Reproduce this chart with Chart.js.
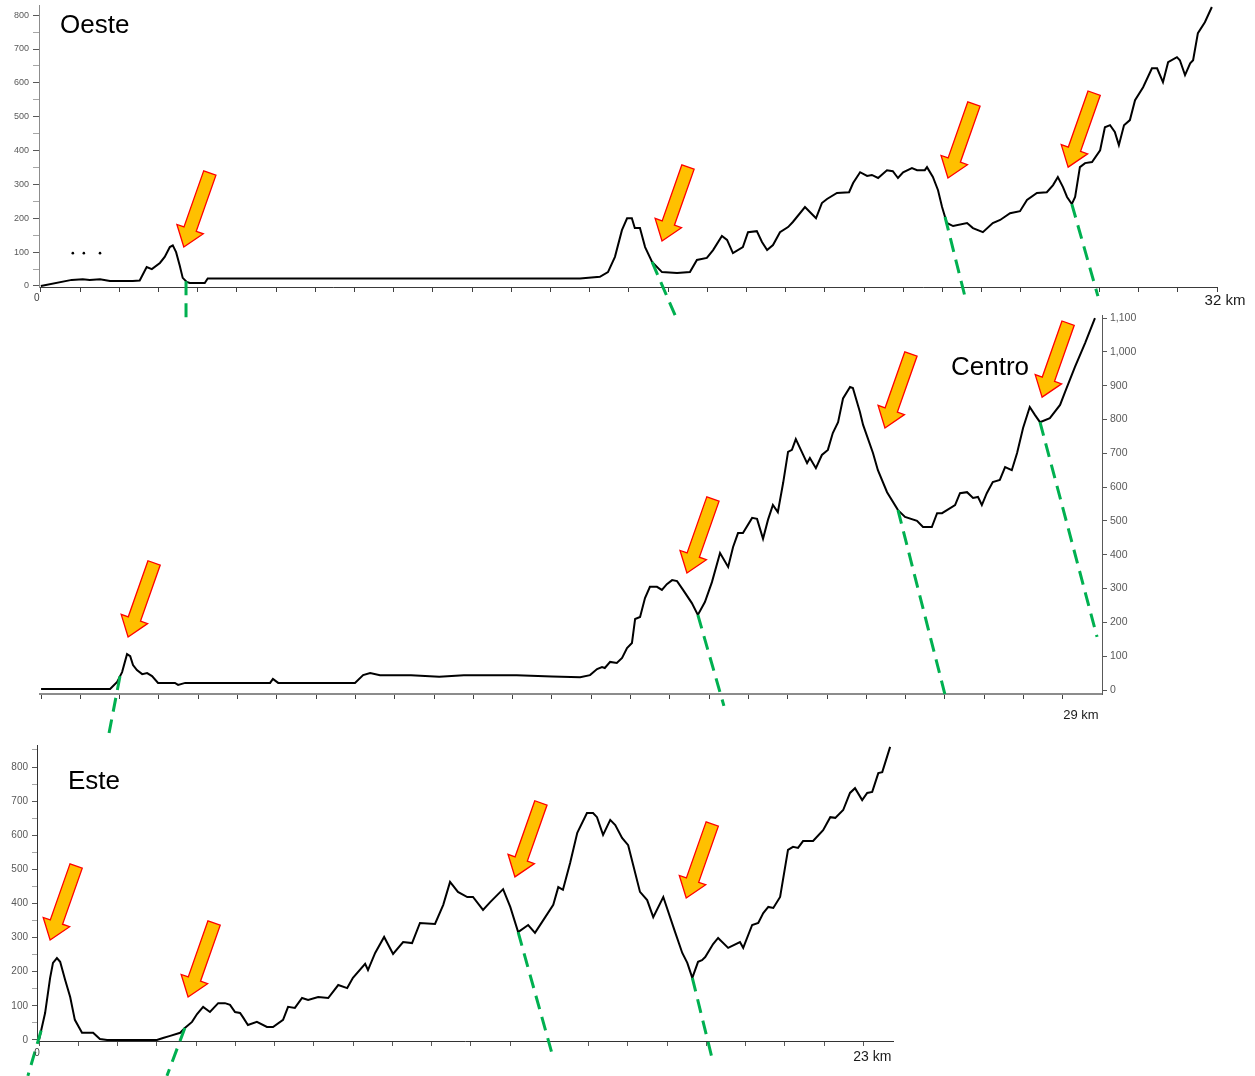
<!DOCTYPE html>
<html>
<head>
<meta charset="utf-8">
<title>Perfiles Oeste / Centro / Este</title>
<script src="https://cdn.jsdelivr.net/npm/chart.js@4.4.0/dist/chart.umd.min.js"></script>
<style>
  body { margin: 0; background: #fff; }
  #wrap { position: relative; width: 1255px; height: 1076px; background: #fff; }
  #wrap canvas { position: absolute; left: 0; top: 0; }
</style>
</head>
<body>
<div id="wrap">
  <canvas id="chart-oeste" width="1255" height="1076"></canvas>
  <canvas id="chart-centro" width="1255" height="1076"></canvas>
  <canvas id="chart-este" width="1255" height="1076"></canvas>
</div>
<script>
// Oeste profile: distance (km) and elevation (m)
var oesteKm = [
  0, 0.84, 1.14, 1.33, 1.61, 1.88, 2.50, 2.69, 2.88, 3.02,
  3.24, 3.37, 3.51, 3.59, 3.68, 3.78, 3.86, 3.97, 4.05, 4.46,
  4.54, 14.67, 15.21, 15.43, 15.62, 15.81, 15.95, 16.08, 16.16, 16.30,
  16.44, 16.63, 16.90, 17.31, 17.66, 17.85, 18.12, 18.29, 18.53, 18.67,
  18.83, 19.10, 19.24, 19.48, 19.62, 19.76, 19.92, 20.11, 20.33, 20.46,
  20.79, 20.93, 21.09, 21.25, 21.39, 21.66, 21.99, 22.10, 22.29, 22.48,
  22.61, 22.78, 23.02, 23.18, 23.32, 23.46, 23.70, 23.84, 24.05, 24.11,
  24.27, 24.41, 24.52, 24.65, 24.82, 25.20, 25.36, 25.63, 25.90, 26.10,
  26.37, 26.64, 26.83, 27.10, 27.37, 27.54, 27.67, 27.81, 27.92, 28.05,
  28.14, 28.27, 28.41, 28.60, 28.82, 28.95, 29.09, 29.22, 29.33, 29.47,
  29.63, 29.77, 29.99, 30.23, 30.37, 30.53, 30.67, 30.91, 30.99, 31.13,
  31.27, 31.35, 31.48, 31.67, 31.86
];
var oesteElev = [
  0, 18, 20, 18, 20, 15, 15, 16, 56, 50,
  68, 86, 115, 120, 100, 60, 24, 12, 9, 9,
  22, 22, 27, 41, 86, 165, 200, 200, 171, 171,
  115, 71, 41, 38, 41, 77, 83, 106, 148, 136,
  97, 115, 159, 162, 130, 106, 121, 159, 174, 189,
  233, 218, 200, 245, 257, 275, 277, 304, 336, 325,
  328, 319, 342, 339, 319, 336, 348, 342, 342, 351,
  322, 283, 233, 186, 177, 186, 171, 159, 186, 195,
  215, 221, 254, 275, 277, 298, 322, 292, 263, 242,
  263, 351, 363, 366, 401, 469, 475, 455, 416, 475,
  490, 549, 587, 643, 643, 602, 661, 676, 667, 623,
  658, 667, 747, 779, 824
];
var oesteDotKm = [0.87, 1.17, 1.61];
var oesteDotElev = [97, 97, 97];

// Centro profile
var centroKm = [
  0, 1.96, 2.16, 2.30, 2.44, 2.53, 2.61, 2.72, 2.87, 3.01,
  3.15, 3.32, 3.80, 3.89, 4.09, 6.50, 6.58, 6.73, 8.91, 9.14,
  9.34, 9.62, 10.50, 11.30, 12.00, 13.50, 14.50, 15.30, 15.58, 15.78,
  15.92, 16.00, 16.15, 16.34, 16.49, 16.63, 16.77, 16.86, 17.00, 17.14,
  17.28, 17.48, 17.62, 17.76, 17.91, 18.05, 18.22, 18.47, 18.64, 18.84,
  19.04, 19.27, 19.50, 19.64, 19.78, 19.92, 20.18, 20.32, 20.49, 20.63,
  20.77, 20.91, 21.06, 21.20, 21.31, 21.42, 21.59, 21.74, 21.82, 21.99,
  22.16, 22.33, 22.47, 22.62, 22.76, 22.96, 23.04, 23.24, 23.33, 23.61,
  23.75, 24.01, 24.32, 24.52, 24.86, 25.03, 25.28, 25.43, 25.57, 25.71,
  25.94, 26.08, 26.28, 26.45, 26.59, 26.70, 26.84, 27.01, 27.21, 27.36,
  27.55, 27.70, 27.87, 28.06, 28.21, 28.35, 28.63, 28.92, 29.06, 29.34,
  29.63, 29.91
];
var centroElev = [
  3, 3, 24, 53, 106, 100, 74, 59, 47, 50,
  41, 21, 21, 15, 21, 21, 33, 21, 21, 44,
  50, 44, 44, 39, 44, 44, 40, 38, 44, 62,
  68, 65, 83, 80, 95, 124, 139, 210, 216, 272,
  305, 305, 296, 313, 325, 322, 296, 257, 222, 260,
  319, 405, 364, 423, 464, 464, 509, 506, 447, 503,
  547, 526, 612, 704, 710, 742, 704, 671, 686, 656,
  695, 710, 760, 792, 862, 896, 893, 822, 784, 701,
  650, 585, 532, 512, 500, 482, 482, 523, 523, 532,
  547, 582, 585, 568, 571, 547, 582, 615, 621, 659,
  650, 701, 775, 837, 813, 792, 804, 843, 881, 955,
  1026, 1100
];

// Este profile
var esteKm = [
  0, 0.17, 0.31, 0.39, 0.50, 0.59, 0.73, 0.87, 1.00, 1.20,
  1.51, 1.70, 1.90, 3.29, 3.46, 3.66, 3.94, 4.07, 4.27, 4.41,
  4.58, 4.77, 5.00, 5.19, 5.33, 5.47, 5.61, 5.69, 5.83, 6.08,
  6.36, 6.53, 6.81, 6.95, 7.14, 7.34, 7.51, 7.79, 8.07, 8.35,
  8.60, 8.76, 9.10, 9.18, 9.38, 9.63, 9.88, 10.16, 10.41, 10.63,
  11.05, 11.28, 11.47, 11.69, 11.95, 12.11, 12.39, 12.59, 12.95, 13.15,
  13.37, 13.65, 13.84, 14.04, 14.35, 14.49, 14.62, 14.82, 15.02, 15.29,
  15.46, 15.57, 15.74, 15.94, 16.08, 16.27, 16.44, 16.77, 16.97, 17.14,
  17.42, 17.75, 17.95, 18.09, 18.23, 18.39, 18.50, 18.59, 18.81, 18.95,
  19.23, 19.56, 19.65, 19.90, 20.07, 20.21, 20.35, 20.49, 20.68, 20.90,
  21.04, 21.18, 21.32, 21.60, 21.88, 22.08, 22.22, 22.44, 22.63, 22.77,
  22.97, 23.11, 23.25, 23.42, 23.53, 23.75
];
var esteElev = [
  0, 79, 182, 226, 240, 229, 176, 126, 59, 21,
  21, 3, 0, 0, 6, 12, 21, 35, 53, 76,
  97, 82, 108, 108, 103, 82, 79, 67, 44, 53,
  38, 38, 59, 97, 94, 123, 117, 126, 123, 161,
  152, 182, 223, 205, 255, 302, 252, 287, 284, 343,
  340, 396, 463, 434, 419, 419, 381, 404, 442, 390,
  316, 337, 314, 346, 396, 448, 440, 519, 607, 665,
  665, 653, 601, 645, 630, 592, 571, 434, 410, 360,
  419, 316, 255, 226, 182, 229, 234, 243, 281, 299,
  270, 287, 270, 337, 343, 372, 390, 387, 419, 557,
  566, 563, 583, 583, 615, 653, 651, 674, 724, 738,
  703, 724, 727, 782, 785, 859
];

// y tick values and the distance written at the end of each axis
var oesteYTicks = [0, 50, 100, 150, 200, 250, 300, 350, 400, 450, 500, 550, 600, 650, 700, 750, 800];
var centroYTicks = [0, 100, 200, 300, 400, 500, 600, 700, 800, 900, 1000, 1100];
var esteYTicks = [0, 50, 100, 150, 200, 250, 300, 350, 400, 450, 500, 550, 600, 650, 700, 750, 800, 850];
var oesteTotal = 32;
var centroTotal = 29;
var esteTotal = 23;

var FONT = '"Liberation Sans", Arial, Helvetica, sans-serif';

function toPoints(xs, ys) {
  var pts = [];
  for (var i = 0; i < xs.length; i++) {
    pts.push({x: xs[i], y: ys[i]});
  }
  return pts;
}

// linear interpolation along a profile, used to start the dashed guides on the line
function elevAt(km, xs, ys) {
  if (km <= xs[0]) return ys[0];
  for (var i = 1; i < xs.length; i++) {
    if (km <= xs[i]) {
      var t = (km - xs[i - 1]) / (xs[i] - xs[i - 1]);
      return ys[i - 1] + t * (ys[i] - ys[i - 1]);
    }
  }
  return ys[ys.length - 1];
}

function xTickValues(total, count, last) {
  var vals = [];
  for (var i = 0; i <= last; i++) {
    vals.push(i * total / count);
  }
  return vals;
}

// orange block arrow pointing down-left onto the profile
function drawArrow(ctx, tx, ty) {
  var bx = tx + 26, by = ty - 74;
  var len = Math.sqrt((tx - bx) * (tx - bx) + (ty - by) * (ty - by));
  var ux = (tx - bx) / len, uy = (ty - by) / len;
  var nx = -uy, ny = ux;
  var shaft = 6.5, head = 14, headLen = 19;
  var hx = tx - ux * headLen, hy = ty - uy * headLen;
  ctx.beginPath();
  ctx.moveTo(bx + nx * shaft, by + ny * shaft);
  ctx.lineTo(hx + nx * shaft, hy + ny * shaft);
  ctx.lineTo(hx + nx * head, hy + ny * head);
  ctx.lineTo(tx, ty);
  ctx.lineTo(hx - nx * head, hy - ny * head);
  ctx.lineTo(hx - nx * shaft, hy - ny * shaft);
  ctx.lineTo(bx - nx * shaft, by - ny * shaft);
  ctx.closePath();
  ctx.fillStyle = '#FFC000';
  ctx.fill();
  ctx.lineJoin = 'miter';
  ctx.strokeStyle = '#FF0000';
  ctx.lineWidth = 1.3;
  ctx.stroke();
}

function drawMarks(chart, panel) {
  var ctx = chart.ctx;
  var sx = chart.scales.x, sy = chart.scales.y;
  ctx.save();

  // green dashed guides
  ctx.setLineDash([14, 8]);
  ctx.lineDashOffset = 0;
  ctx.lineWidth = 3;
  ctx.lineCap = 'butt';
  ctx.strokeStyle = '#00B050';
  panel.dashes.forEach(function (d) {
    var y0 = elevAt(d[0], panel.km, panel.elev);
    ctx.beginPath();
    ctx.moveTo(sx.getPixelForValue(d[0]), sy.getPixelForValue(y0));
    ctx.lineTo(sx.getPixelForValue(d[1]), sy.getPixelForValue(d[2]));
    ctx.stroke();
  });
  ctx.setLineDash([]);

  panel.arrows.forEach(function (a) {
    drawArrow(ctx, sx.getPixelForValue(a[0]), sy.getPixelForValue(a[1]));
  });

  // axis end labels
  ctx.textAlign = 'center';
  ctx.textBaseline = 'middle';
  panel.endLabels.forEach(function (l) {
    ctx.font = l.size + 'px ' + FONT;
    ctx.fillStyle = l.color;
    ctx.fillText(l.text, sx.getPixelForValue(l.value) + l.dx, chart.chartArea.bottom + l.dy);
  });

  // panel name
  ctx.textAlign = 'left';
  ctx.textBaseline = 'alphabetic';
  ctx.font = '26px ' + FONT;
  ctx.fillStyle = '#000';
  ctx.fillText(panel.title, panel.titleX, panel.titleY);
  ctx.restore();
}

function makeProfile(canvasId, panel) {
  var datasets = [{
    data: toPoints(panel.km, panel.elev),
    borderColor: '#000',
    borderWidth: 2,
    pointRadius: 0,
    tension: 0,
    fill: false
  }];
  if (panel.dotKm) {
    datasets.push({
      type: 'scatter',
      data: toPoints(panel.dotKm, panel.dotElev),
      pointRadius: 1.3,
      backgroundColor: '#000',
      borderWidth: 0
    });
  }
  var yTicks = panel.yTicks;
  var xTicks = panel.xTicks;

  return new Chart(document.getElementById(canvasId).getContext('2d'), {
    type: 'line',
    data: {datasets: datasets},
    options: {
      responsive: false,
      animation: false,
      events: [],
      layout: {padding: panel.padding},
      plugins: {legend: {display: false}, tooltip: {enabled: false}},
      scales: {
        x: {
          type: 'linear',
          bounds: 'data',
          min: panel.xMin,
          max: panel.xMax,
          afterBuildTicks: function (scale) {
            scale.ticks = xTicks.map(function (v) { return {value: v}; });
          },
          afterFit: function (scale) {
            scale.height = 30;
            scale.paddingLeft = 0;
            scale.paddingRight = 0;
          },
          border: {color: panel.xAxisColor, width: panel.xAxisWidth},
          grid: {drawOnChartArea: false, drawTicks: true, tickLength: 5, tickColor: panel.xTickColor, tickWidth: 1},
          ticks: {autoSkip: false, maxRotation: 0, callback: function () { return ''; }}
        },
        y: {
          type: 'linear',
          position: panel.yPosition,
          bounds: 'data',
          min: panel.yMin,
          max: panel.yMax,
          afterBuildTicks: function (scale) {
            scale.ticks = yTicks.map(function (v) { return {value: v}; });
          },
          afterFit: function (scale) {
            scale.width = panel.yWidth;
            // the plot area is placed by the layout padding alone
            scale.paddingTop = 0;
            scale.paddingBottom = 0;
          },
          border: {color: panel.yAxisColor, width: 1},
          grid: {
            drawOnChartArea: false,
            drawTicks: true,
            tickLength: panel.yTickLength,
            tickWidth: 1,
            tickColor: function (c) {
              return c.tick && c.tick.value % 100 === 0 ? '#595959' : '#a6a6a6';
            }
          },
          ticks: {
            autoSkip: false,
            padding: panel.yPadding,
            color: '#595959',
            font: {family: FONT, size: panel.yFontSize},
            callback: function (v) {
              return v % 100 === 0 ? v.toLocaleString('en-US') : '';
            }
          }
        }
      }
    },
    plugins: [{
      id: 'profileMarks',
      afterDraw: function (chart) { drawMarks(chart, panel); }
    }]
  });
}

// top panel: chart area 39..1217 x 5..287
makeProfile('chart-oeste', {
  km: oesteKm, elev: oesteElev, dotKm: oesteDotKm, dotElev: oesteDotElev,
  title: 'Oeste', titleX: 60, titleY: 33,
  padding: {left: 0, right: 38, top: 5, bottom: 759},
  xMin: -0.05, xMax: oesteTotal, xTicks: xTickValues(oesteTotal, 30, 30),
  yMin: -3, yMax: 830, yTicks: oesteYTicks,
  yPosition: 'left', yWidth: 39, yTickLength: 6, yPadding: 4, yFontSize: 9,
  xAxisColor: '#3a3a3a', xAxisWidth: 1, xTickColor: '#404040', yAxisColor: '#8c8c8c',
  endLabels: [
    {value: 0, text: '0', dx: -4, dy: 11, size: 10, color: '#404040'},
    {value: oesteTotal, text: oesteTotal + ' km', dx: 8, dy: 14, size: 15, color: '#1a1a1a'}
  ],
  arrows: [[3.89, 115], [16.90, 133], [24.68, 319], [27.95, 351]],
  dashes: [[3.95, 3.95, -100], [16.63, 17.31, -100], [24.60, 25.14, -30], [28.05, 28.76, -30]]
});

// middle panel: chart area 40..1102 x 315..694, axis on the right
makeProfile('chart-centro', {
  km: centroKm, elev: centroElev,
  title: 'Centro', titleX: 951, titleY: 375,
  padding: {left: 40, right: 113, top: 315, bottom: 352},
  xMin: -0.03, xMax: 30.11, xTicks: xTickValues(centroTotal, 26, 26),
  yMin: -11.8, yMax: 1108.9, yTicks: centroYTicks,
  yPosition: 'right', yWidth: 40, yTickLength: 5, yPadding: 3, yFontSize: 10.5,
  xAxisColor: '#8c8c8c', xAxisWidth: 2, xTickColor: '#404040', yAxisColor: '#595959',
  endLabels: [
    {value: centroTotal, text: centroTotal + ' km', dx: 18, dy: 21, size: 13, color: '#1a1a1a'}
  ],
  arrows: [[2.47, 157], [18.33, 346], [23.95, 775], [28.41, 866]],
  dashes: [[2.24, 1.93, -127], [18.64, 19.38, -47], [24.32, 25.65, -12], [28.35, 29.97, 157]]
});

// bottom panel: chart area 37..893 x 745..1041
makeProfile('chart-este', {
  km: esteKm, elev: esteElev,
  title: 'Este', titleX: 68, titleY: 789,
  padding: {left: 0, right: 362, top: 745, bottom: 5},
  xMin: -0.056, xMax: 23.83, xTicks: xTickValues(esteTotal, 21, 21),
  yMin: -3, yMax: 864.5, yTicks: esteYTicks,
  yPosition: 'left', yWidth: 37, yTickLength: 5, yPadding: 4, yFontSize: 10,
  xAxisColor: '#333333', xAxisWidth: 1, xTickColor: '#595959', yAxisColor: '#333333',
  endLabels: [
    {value: 0, text: '0', dx: -2, dy: 12, size: 10, color: '#404040'},
    {value: esteTotal, text: esteTotal + ' km', dx: 9, dy: 16, size: 14, color: '#1a1a1a'}
  ],
  arrows: [[0.31, 293], [4.16, 126], [13.28, 478], [18.06, 416]],
  dashes: [[0.06, -0.31, -105], [4.07, 3.57, -105], [13.37, 14.35, -53], [18.23, 18.78, -53]]
});
</script>
</body>
</html>
